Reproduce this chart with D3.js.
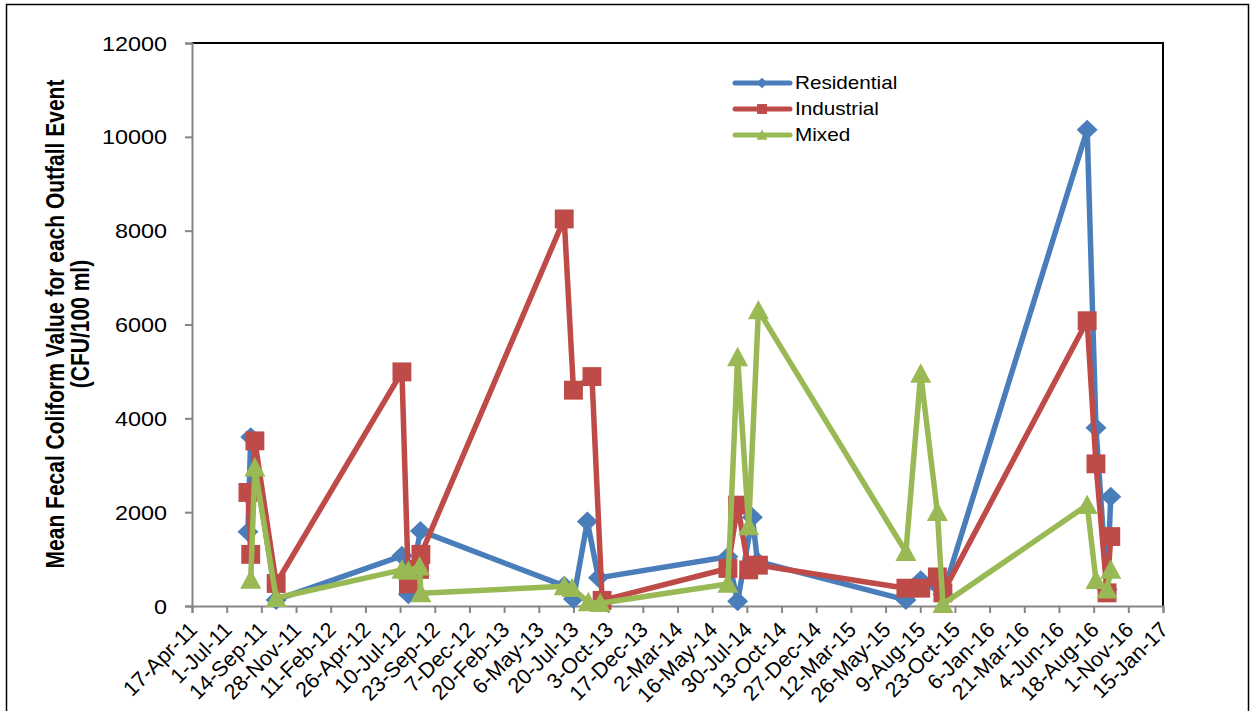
<!DOCTYPE html>
<html><head><meta charset="utf-8">
<script src="https://cdn.jsdelivr.net/npm/d3@7"></script>
<style>html,body{margin:0;padding:0;background:#fff;}svg{display:block;}</style>
</head><body>
<svg id="c" width="1253" height="711"></svg>
<script>
const xTickLabels = ["17-Apr-11","1-Jul-11","14-Sep-11","28-Nov-11","11-Feb-12","26-Apr-12","10-Jul-12","23-Sep-12","7-Dec-12","20-Feb-13","6-May-13","20-Jul-13","3-Oct-13","17-Dec-13","2-Mar-14","16-May-14","30-Jul-14","13-Oct-14","27-Dec-14","12-Mar-15","26-May-15","9-Aug-15","23-Oct-15","6-Jan-16","21-Mar-16","4-Jun-16","18-Aug-16","1-Nov-16","15-Jan-17"];
const yTicks = [0,2000,4000,6000,8000,10000,12000];

const resDates = ["16-Aug-11","22-Aug-11","16-Oct-11","14-Jul-12","28-Jul-12","23-Aug-12","30-Jun-13","20-Jul-13","19-Aug-13","12-Sep-13","19-Jun-14","10-Jul-14","11-Aug-14","22-Aug-14","9-Jul-15","10-Aug-15","27-Sep-15","4-Aug-16","23-Aug-16","16-Sep-16","24-Sep-16"];
const resValues = [1580,3600,130,1070,250,1600,430,150,1800,600,1050,100,1890,950,130,550,250,10150,3800,350,2330];

const indDates = ["16-Aug-11","22-Aug-11","31-Aug-11","16-Oct-11","14-Jul-12","28-Jul-12","21-Aug-12","24-Aug-12","30-Jun-13","20-Jul-13","29-Aug-13","20-Sep-13","19-Jun-14","10-Jul-14","3-Aug-14","24-Aug-14","9-Jul-15","10-Aug-15","15-Sep-15","27-Sep-15","4-Aug-16","23-Aug-16","16-Sep-16","24-Sep-16"];
const indValues = [2420,1100,3520,480,4990,470,780,1100,8250,4600,4890,120,800,2150,770,870,380,380,620,280,6080,3030,280,1480];

const mixDates = ["22-Aug-11","31-Aug-11","16-Oct-11","14-Jul-12","28-Jul-12","21-Aug-12","24-Aug-12","30-Jun-13","17-Jul-13","21-Aug-13","16-Sep-13","19-Jun-14","10-Jul-14","3-Aug-14","24-Aug-14","9-Jul-15","10-Aug-15","15-Sep-15","27-Sep-15","4-Aug-16","23-Aug-16","16-Sep-16","24-Sep-16"];
const mixValues = [560,2950,170,770,750,840,270,420,380,80,60,470,5300,1700,6300,1150,4950,2000,40,2150,550,350,770];

const seriesNames = ["Residential","Industrial","Mixed"];
const seriesColors = ["#4A7EBB","#BE4B48","#98B954"];

const parse = d3.utcParse("%d-%b-%y");
const fmt = d3.utcFormat("%-d-%b-%y");

const svg = d3.select("#c");
const L = 192, R = 1163, T = 43, B = 606;

const tickDates = xTickLabels.map(parse);
const x = d3.scaleUtc().domain([tickDates[0], tickDates[tickDates.length-1]]).range([L, R]);
const y = d3.scaleLinear().domain([0, 12000]).range([B, T]);

// outer frame
svg.append("rect").attr("x",6.5).attr("y",4.5).attr("width",1242).attr("height",740)
  .attr("fill","none").attr("stroke","#000").attr("stroke-width",1.5);

// plot border top/right
svg.append("path").attr("d",`M${L},${T}H${R}V${B}`).attr("fill","none").attr("stroke","#000").attr("stroke-width",2);

// y axis
const yAxis = svg.append("g").attr("transform",`translate(${L},0)`)
  .call(d3.axisLeft(y).tickValues(yTicks).tickSize(7).tickFormat(d3.format("d")));
yAxis.select(".domain").attr("stroke","#868686").attr("stroke-width",2);
yAxis.selectAll(".tick line").attr("stroke","#868686").attr("stroke-width",2);
yAxis.selectAll(".tick text").remove();
yAxis.selectAll(".tick").append("text")
  .attr("transform","translate(-25,0) scale(1.2,1)")
  .attr("text-anchor","end").attr("dy","0.36em")
  .attr("font-family","Liberation Sans, Arial, sans-serif").attr("font-size",19.5).attr("fill","#000")
  .text(d=>d);

// x axis
const xAxis = svg.append("g").attr("transform",`translate(0,${B})`)
  .call(d3.axisBottom(x).tickValues(tickDates).tickSize(7).tickFormat(fmt));
xAxis.select(".domain").attr("stroke","#868686").attr("stroke-width",2);
xAxis.selectAll(".tick line").attr("stroke","#868686").attr("stroke-width",2);
xAxis.selectAll(".tick text")
  .attr("font-family","Liberation Sans, Arial, sans-serif").attr("font-size",21.5).attr("fill","#000")
  .attr("text-anchor","end").attr("y",0).attr("dy",0)
  .attr("transform","translate(6,25) rotate(-45)");

// y title
const yt = svg.append("g").attr("transform","translate(0,324)");
yt.append("text").attr("transform","translate(64,0) scale(1.25,1) rotate(-90)")
  .attr("text-anchor","middle").attr("font-family","Liberation Sans, Arial, sans-serif")
  .attr("font-weight","bold").attr("font-size",21).text("Mean Fecal Coliform Value for each Outfall Event");
yt.append("text").attr("transform","translate(89,0) scale(1.25,1) rotate(-90)")
  .attr("text-anchor","middle").attr("font-family","Liberation Sans, Arial, sans-serif")
  .attr("font-weight","bold").attr("font-size",21).text("(CFU/100 ml)");

// markers
function markerPath(i, s){
  if(i===0) return `M0,${-s*0.95}L${s},0L0,${s*0.95}L${-s},0Z`;
  if(i===1) return `M${-s*0.9},${-s*0.9}H${s*0.9}V${s*0.9}H${-s*0.9}Z`;
  return `M0,${-s}L${s},${s*0.85}L${-s},${s*0.85}Z`;
}

const allDates = [resDates, indDates, mixDates];
const allValues = [resValues, indValues, mixValues];
const line = d3.line().x(d=>x(d.date)).y(d=>y(d.v));

allDates.forEach((ds,i)=>{
  const data = ds.map((d,j)=>({date: parse(d), v: allValues[i][j]}));
  const g = svg.append("g");
  g.append("path").attr("d", line(data)).attr("fill","none")
    .attr("stroke", seriesColors[i]).attr("stroke-width",5.5).attr("stroke-linejoin","round");
  g.selectAll("path.m").data(data).enter().append("path").attr("class","m")
    .attr("transform", d=>`translate(${x(d.date)},${y(d.v)})`)
    .attr("d", markerPath(i,10.5)).attr("fill", seriesColors[i]);
});

// legend
const lg = svg.append("g");
seriesNames.forEach((n,i)=>{
  const yy = 83 + i*26;
  lg.append("line").attr("x1",735).attr("x2",790).attr("y1",yy).attr("y2",yy)
    .attr("stroke",seriesColors[i]).attr("stroke-width",5).attr("stroke-linecap","round");
  lg.append("path").attr("transform",`translate(762,${yy})`).attr("d",markerPath(i,5.5)).attr("fill",seriesColors[i]);
  lg.append("text").attr("transform",`translate(795,${yy}) scale(1.15,1)`).attr("dy","0.36em")
    .attr("font-family","Liberation Sans, Arial, sans-serif").attr("font-size",18).text(n);
});
</script>
</body></html>
